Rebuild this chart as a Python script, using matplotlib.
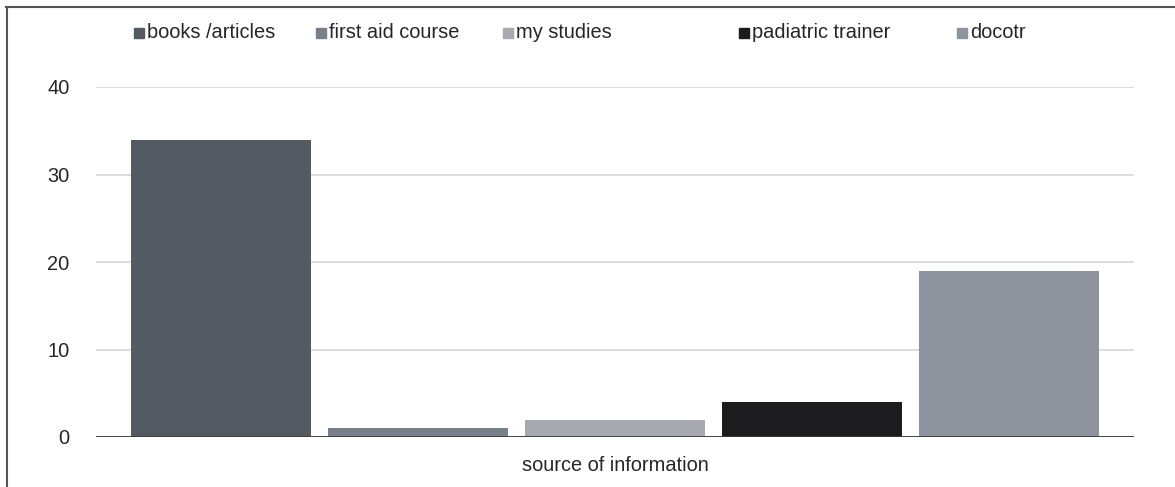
import matplotlib
matplotlib.use("Agg")
import matplotlib.pyplot as plt
from matplotlib.patches import Rectangle
from matplotlib.lines import Line2D

plt.rcParams["font.family"] = ["Liberation Sans", "DejaVu Sans"]

categories = ["books /articles", "first aid course", "my studies", "padiatric trainer", "docotr"]
values = [34, 1, 2, 4, 19]
colors = ["#535a62", "#78808a", "#a6a9ad", "#1c1c1e", "#8e949e"]
yticks = [0, 10, 20, 30, 40]

# legend marker x positions (px) as laid out in the original
legend_x = [134, 316, 503, 739, 957]

W, H = 1175, 487
fig = plt.figure(figsize=(W / 100, H / 100), dpi=100)
ax = fig.add_axes([96 / W, (H - 437) / H, 1038 / W, 350 / H])

x = list(range(len(values)))
ax.bar(x, values, width=0.914, color=colors, zorder=2)

ax.set_xlim(-0.635, len(values) - 1 + 0.635)
ax.set_ylim(0, 40)
ax.set_yticks(yticks)
ax.set_xticks([])
ax.grid(axis="y", color="#d9d9d9", linewidth=1.3, zorder=0)
ax.axhline(0, color="#3a3a3a", linewidth=2, zorder=3)
for s in ax.spines.values():
    s.set_visible(False)
ax.tick_params(axis="y", length=0, pad=19, labelsize=14.4, labelcolor="#262626")
ax.set_xlabel("source of information", fontsize=14.4, color="#262626", labelpad=14)

# legend
ly = (H - 33) / H
for lx, lab, c in zip(legend_x, categories, colors):
    fig.patches.append(Rectangle((lx / W, ly - 5 / H), 10 / W, 10 / H,
                                 transform=fig.transFigure, color=c))
    fig.text((lx + 13) / W, ly, lab, fontsize=14.4, color="#262626", va="center", ha="left")

# outer border (top and left visible)
fig.add_artist(Line2D([6 / W, 1], [1 - 6.5 / H, 1 - 6.5 / H], transform=fig.transFigure,
                      color="#555555", linewidth=1.5))
fig.add_artist(Line2D([6.5 / W, 6.5 / W], [0, 1 - 6.5 / H], transform=fig.transFigure,
                      color="#555555", linewidth=1.5))

fig.savefig("out.png", dpi=100)
